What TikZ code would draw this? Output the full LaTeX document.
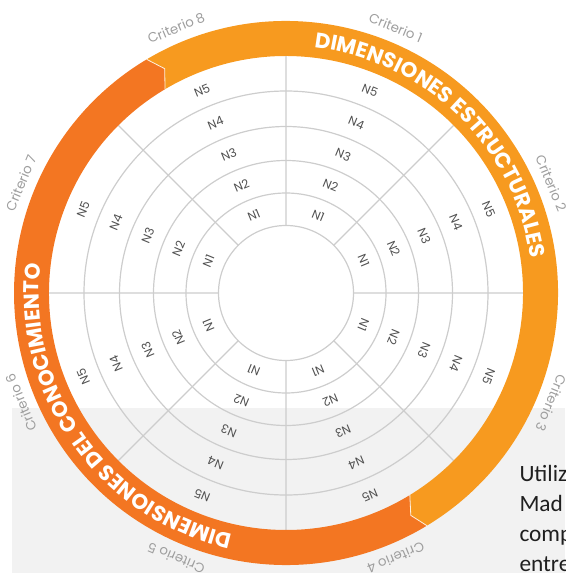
\documentclass[tikz,border=0pt]{standalone}
\usepackage{fontspec}
\setmainfont{Poppins}
\newfontfamily\bodyfont{Carlito}
\usetikzlibrary{decorations.text}

\definecolor{ringlight}{RGB}{247,154,31}
\definecolor{ringdark}{RGB}{243,118,34}
\definecolor{gridgray}{RGB}{205,205,205}
\definecolor{critgray}{RGB}{158,158,158}
\definecolor{lvlgray}{RGB}{80,80,80}
\definecolor{panelgray}{RGB}{242,242,242}

\tikzset{every picture/.style={line width=0.75pt}}
\tikzset{
  gridline/.style={color=gridgray, line width=0.9pt},
  lvl/.style={inner sep=0.75pt, color=lvlgray, font=\fontsize{9}{9}\selectfont},
  crit/.style={inner sep=0.75pt, color=critgray, font=\fontsize{10}{10}\selectfont},
  body/.style={inner sep=0pt, anchor=base west, color=black!88, font=\bodyfont\fontsize{17.5}{21}\selectfont},
  ringtitle/.style={decorate, decoration={text along path, text align=center,
      text={|\color{white}\bfseries\fontsize{16}{16}\selectfont|#1}}}
}

\begin{document}
\begin{tikzpicture}[x=0.75pt,y=0.75pt,yscale=-1,xscale=1]
%set diagram left start at 0, and has height of 573
\useasboundingbox (0,0) rectangle (565,573);
\clip (0,0) rectangle (565,573);

%Shape: Rectangle [id:panel]
\fill [panelgray] (12,408) rectangle (565,573);

\begin{scope}[shift={(286,293)},yscale=-1]
%Shape: Circle [id:levels]
\draw [gridline] (0,0) circle (67.5) (0,0) circle (100) (0,0) circle (132.5) (0,0) circle (166.5) (0,0) circle (202);
%Straight Lines [id:sectors]
\draw [gridline] (0:67.5) -- (0:237) (45:67.5) -- (45:237) (90:67.5) -- (90:237) (135:67.5) -- (135:237)
  (180:67.5) -- (180:237) (225:67.5) -- (225:237) (270:67.5) -- (270:237) (315:67.5) -- (315:237);

%Shape: Arc [id:ringlight]
\fill [ringlight] (120.8:272) arc [start angle=120.8, end angle=-58.8, radius=272] -- (-60.7:255)
  -- (-58.5:237) arc [start angle=-58.5, end angle=120.7, radius=237] -- (118.4:255) -- cycle;
%Shape: Arc [id:ringdark]
\fill [ringdark] (-58.8:272) arc [start angle=-58.8, end angle=-239.2, radius=272] -- (-241.6:255)
  -- (-239.3:237) arc [start angle=-239.3, end angle=-58.5, radius=237] -- (-60.7:255) -- cycle;
%Straight Lines [id:dividers]
\draw [white!85!ringlight, line width=0.6pt] (120.8:272) -- (118.4:255) -- (120.7:237) (-58.8:272) -- (-60.7:255) -- (-58.5:237);

% Text Node
\path [ringtitle={DIMENSIONES ESTRUCTURALES}] (100:247) arc [start angle=100, end angle=-8.5, radius=247];
% Text Node
\path [ringtitle={DIMENSIONES DEL CONOCIMIENTO}] (-88:247) arc [start angle=-88, end angle=-201.2, radius=247];

% Text Node
\node [crit, rotate=-22.5] (crit1) at (67.5:287) {Criterio 1};
\node [crit, rotate=-67.5] (crit2) at (22.5:287) {Criterio 2};
\node [crit, rotate=-112.5] (crit3) at (-22.5:287) {Criterio 3};
\node [crit, rotate=-157.5] (crit4) at (-67.5:287) {Criterio 4};
\node [crit, rotate=-202.5] (crit5) at (-112.5:287) {Criterio 5};
\node [crit, rotate=-247.5] (crit6) at (-157.5:287) {Criterio 6};
\node [crit, rotate=67.5] (crit7) at (157.5:287) {Criterio 7};
\node [crit, rotate=22.5] (crit8) at (112.5:287) {Criterio 8};

% Text Node
\node [lvl, rotate=-22.5] (a1) at (67.5:84) {N1}; \node [lvl, rotate=-22.5] (a2) at (67.5:116.5) {N2}; \node [lvl, rotate=-22.5] (a3) at (67.5:149.5) {N3}; \node [lvl, rotate=-22.5] (a4) at (67.5:184) {N4}; \node [lvl, rotate=-22.5] (a5) at (67.5:219.5) {N5};
\node [lvl, rotate=-67.5] (b1) at (22.5:84) {N1}; \node [lvl, rotate=-67.5] (b2) at (22.5:116.5) {N2}; \node [lvl, rotate=-67.5] (b3) at (22.5:149.5) {N3}; \node [lvl, rotate=-67.5] (b4) at (22.5:184) {N4}; \node [lvl, rotate=-67.5] (b5) at (22.5:219.5) {N5};
\node [lvl, rotate=-112.5] (c1) at (-22.5:84) {N1}; \node [lvl, rotate=-112.5] (c2) at (-22.5:116.5) {N2}; \node [lvl, rotate=-112.5] (c3) at (-22.5:149.5) {N3}; \node [lvl, rotate=-112.5] (c4) at (-22.5:184) {N4}; \node [lvl, rotate=-112.5] (c5) at (-22.5:219.5) {N5};
\node [lvl, rotate=-157.5] (d1) at (-67.5:84) {N1}; \node [lvl, rotate=-157.5] (d2) at (-67.5:116.5) {N2}; \node [lvl, rotate=-157.5] (d3) at (-67.5:149.5) {N3}; \node [lvl, rotate=-157.5] (d4) at (-67.5:184) {N4}; \node [lvl, rotate=-157.5] (d5) at (-67.5:219.5) {N5};
\node [lvl, rotate=-202.5] (e1) at (-112.5:84) {N1}; \node [lvl, rotate=-202.5] (e2) at (-112.5:116.5) {N2}; \node [lvl, rotate=-202.5] (e3) at (-112.5:149.5) {N3}; \node [lvl, rotate=-202.5] (e4) at (-112.5:184) {N4}; \node [lvl, rotate=-202.5] (e5) at (-112.5:219.5) {N5};
\node [lvl, rotate=-247.5] (f1) at (-157.5:84) {N1}; \node [lvl, rotate=-247.5] (f2) at (-157.5:116.5) {N2}; \node [lvl, rotate=-247.5] (f3) at (-157.5:149.5) {N3}; \node [lvl, rotate=-247.5] (f4) at (-157.5:184) {N4}; \node [lvl, rotate=-247.5] (f5) at (-157.5:219.5) {N5};
\node [lvl, rotate=67.5] (g1) at (157.5:84) {N1}; \node [lvl, rotate=67.5] (g2) at (157.5:116.5) {N2}; \node [lvl, rotate=67.5] (g3) at (157.5:149.5) {N3}; \node [lvl, rotate=67.5] (g4) at (157.5:184) {N4}; \node [lvl, rotate=67.5] (g5) at (157.5:219.5) {N5};
\node [lvl, rotate=22.5] (h1) at (112.5:84) {N1}; \node [lvl, rotate=22.5] (h2) at (112.5:116.5) {N2}; \node [lvl, rotate=22.5] (h3) at (112.5:149.5) {N3}; \node [lvl, rotate=22.5] (h4) at (112.5:184) {N4}; \node [lvl, rotate=22.5] (h5) at (112.5:219.5) {N5};
\end{scope}

% Text Node
\node [body] (line1) at (519,481.7) {Utiliz};
\node [body] (line2) at (519,511.7) {Mad};
\node [body] (line3) at (519,541.7) {comp};
\node [body] (line4) at (519,571.7) {entre};

\end{tikzpicture}
\end{document}
